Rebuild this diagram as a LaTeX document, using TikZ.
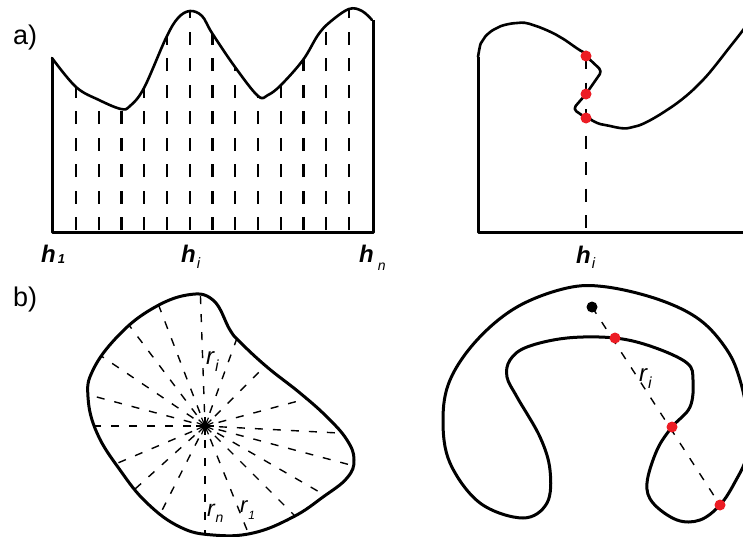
\documentclass[tikz,border=0pt]{standalone}
\usepackage{fontspec}
\setmainfont{Liberation Sans}
\usetikzlibrary{calc}
\definecolor{dotred}{RGB}{236,28,36}
\begin{document}
\begin{tikzpicture}[x=1pt,y=-1pt,
  frame/.style={line width=3pt, line join=round},
  curve/.style={line width=2.6pt, line join=round, line cap=round},
  hdash/.style={line width=2.2pt, dash pattern=on 13pt off 13.5pt},
  rdash/.style={line width=1.4pt, dash pattern=on 8pt off 10pt},
  rdot/.style={circle, fill=dotred, inner sep=0pt, minimum size=11pt},
  bdot/.style={circle, fill=black, inner sep=0pt, minimum size=11pt},
  lab/.style={inner sep=0pt, anchor=base west},
  big/.style={font=\fontsize{27}{27}\selectfont}]
\useasboundingbox (0,0) rectangle (743,536);
\fill[white] (0,0) rectangle (743,536);
\clip (0,0) rectangle (743,536);

% ---------- a) left ----------
\node[lab,big] (la) at (13,44) {a)};
\begin{scope}
  \clip (52,232) -- plot[smooth,tension=0.6] coordinates {(52,58) (76,87) (99,100) (121,109) (130,106) (144,88) (166,38) (178,18) (190,11) (202,16) (212,33) (235,67) (258,96) (268,95) (281,85) (303,60) (318,35) (330,22) (349,9) (362,11) (372,20)} -- (372,232) -- cycle;
  \foreach \i in {0,...,12} \draw[hdash] ({76+\i*22.75},230) -- ({76+\i*22.75},0);
\end{scope}
\draw[curve] plot[smooth,tension=0.6] coordinates {(52,58) (76,87) (99,100) (121,109) (130,106) (144,88) (166,38) (178,18) (190,11) (202,16) (212,33) (235,67) (258,96) (268,95) (281,85) (303,60) (318,35) (330,22) (349,9) (362,11) (372,20)};
\draw[frame] (52,58) -- (52,232) -- (373,232) -- (373,20);
\node[lab] (h1) at (41,262) {\fontsize{24}{24}\selectfont\textbf{\textit{h}}\hspace{2pt}\raisebox{-1pt}{\fontsize{13}{13}\selectfont\textbf{\textit{1}}}};
\node[lab] (hi) at (181,262) {\fontsize{24}{24}\selectfont\textbf{\textit{h}}\hspace{1pt}\raisebox{-6pt}{\fontsize{15}{15}\selectfont\textit{i}}};
\node[lab] (hn) at (359,262) {\fontsize{24}{24}\selectfont\textbf{\textit{h}}\hspace{4pt}\raisebox{-8pt}{\fontsize{14}{14}\selectfont\textit{n}}};

% ---------- a) right ----------
\coordinate (p1) at (586,56);
\coordinate (p2) at (586,94);
\coordinate (p3) at (586,118);
\coordinate (pb) at (586,232);
\draw[hdash] (p1) -- (pb);
\draw[frame] (478,57) -- (478,232) -- (750,232);
\draw[curve, rounded corners=4pt] plot[smooth,tension=0.6] coordinates {(478,57) (483,40) (497,28) (517,23) (533,25) (560,37) (586,56)} -- (602,71) -- (586,94) -- (573,109) -- plot[smooth,tension=0.6] coordinates {(586,118) (605,125) (633,127) (667,110) (700,83) (733,43) (755,14)};
\node[rdot] (r1) at (p1) {};
\node[rdot] (r2) at (p2) {};
\node[rdot] (r3) at (p3) {};
\node[lab] (hj) at (576,263) {\fontsize{24}{24}\selectfont\textbf{\textit{h}}\hspace{1pt}\raisebox{-5pt}{\fontsize{15}{15}\selectfont\textit{i}}};

% ---------- b) left ----------
\node[lab,big] (lb) at (13,306) {b)};
\coordinate (c) at (205,426);
\begin{scope}
  \clip plot[smooth cycle,tension=0.7] coordinates {(187,295) (213,300) (230,330) (240,342) (267,367) (300,393) (327,417) (347,440) (354,460) (347,478) (323,497) (293,517) (253,533) (213,535) (180,527) (147,503) (120,470) (97,433) (88,397) (93,370) (117,337) (150,310)};
  \foreach \a in {15,45,70,92,111,127,146,165,180,203,222,243,270,292,315,330,345,357}
    \draw[rdash] ($(c)+(-\a:14)$) -- ++(-\a:200);
\end{scope}
\foreach \a in {0,22.5,...,337.5} \draw[line width=1.2pt] (c) -- ++(\a:9);
\fill (c) circle (3.5pt);
\draw[line width=3pt] plot[smooth cycle,tension=0.7] coordinates {(187,295) (213,300) (230,330) (240,342) (267,367) (300,393) (327,417) (347,440) (354,460) (347,478) (323,497) (293,517) (253,533) (213,535) (180,527) (147,503) (120,470) (97,433) (88,397) (93,370) (117,337) (150,310)};
\node[lab] (ri) at (206,364) {\fontsize{24}{24}\selectfont\textit{r}\raisebox{-7pt}{\fontsize{16}{16}\selectfont\textit{i}}};
\node[lab] (rn) at (207,516) {\fontsize{23}{23}\selectfont\textit{r}\raisebox{-6pt}{\fontsize{14}{14}\selectfont\textit{n}}};
\node[lab] (r1l) at (240,512) {\fontsize{22}{22}\selectfont\textit{r}\raisebox{-7pt}{\fontsize{12}{12}\selectfont\textit{1}}};

% ---------- b) right ----------
\coordinate (q0) at (592,307);
\coordinate (q1) at (615,338);
\coordinate (q2) at (672,427);
\coordinate (q3) at (720,505);
\draw[rdash] (q0) -- (q3);
\draw[line width=3pt, line join=round] plot[smooth cycle,tension=0.6] coordinates {(523,518) (480,503) (450,463) (443,420) (450,380) (477,340) (517,307) (567,288) (607,287) (660,300) (700,320) (727,350) (740,380) (748,420) (747,455) (735,482) (720,505) (700,520) (677,520) (653,503) (647,483) (657,450) (672,427) (690,407) (693,380) (687,363) (653,347) (615,338) (567,338) (527,347) (510,360) (507,377) (517,397) (540,437) (550,470) (547,503)};
\node[bdot] (b0) at (q0) {};
\node[rdot] (s1) at (q1) {};
\node[rdot] (s2) at (q2) {};
\node[rdot] (s3) at (q3) {};
\node[lab] (rr) at (639,381) {\fontsize{24}{24}\selectfont\textit{r}\raisebox{-7pt}{\fontsize{16}{16}\selectfont\textit{i}}};
\end{tikzpicture}
\end{document}
